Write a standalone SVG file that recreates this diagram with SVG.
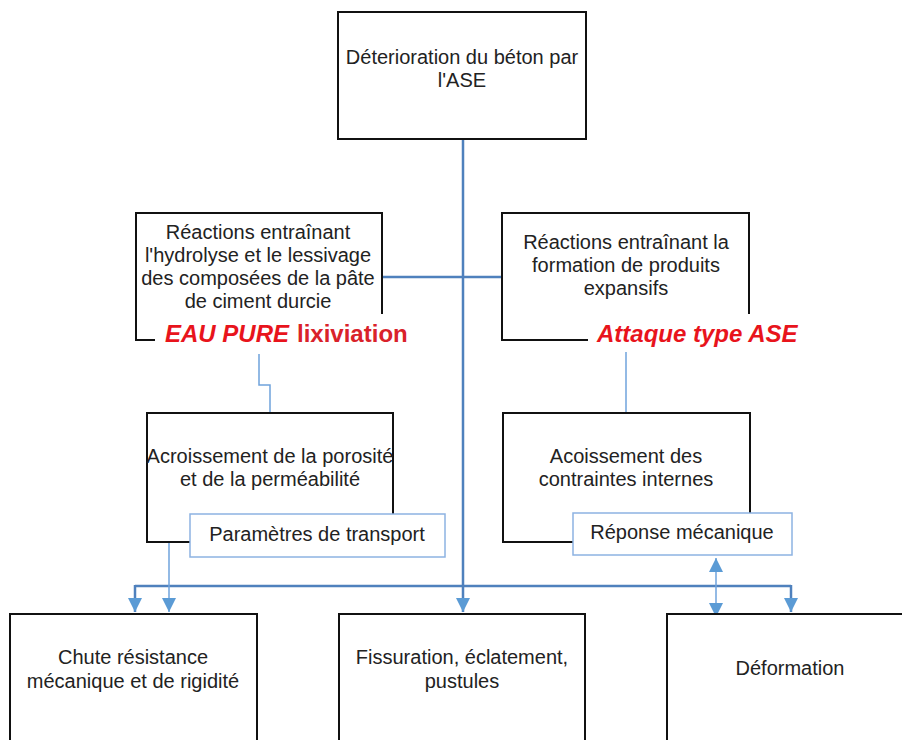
<svg xmlns="http://www.w3.org/2000/svg" width="902" height="740" viewBox="0 0 902 740">
<defs>
<style>
.box{fill:#fff;stroke:#111;stroke-width:2}
.sub{fill:#fff;stroke:#8db3e2;stroke-width:1.5}
.t{font-family:"Liberation Sans",Arial,sans-serif;font-size:20px;fill:#222;text-anchor:middle}
.red{font-family:"Liberation Sans",Arial,sans-serif;font-size:24px;font-weight:bold;fill:#e8141c}
.main{fill:none;stroke:#4f81bd;stroke-width:2.5}
.thin{fill:none;stroke:#6fa3dc;stroke-width:1.5}
</style>
<marker id="ah" markerUnits="userSpaceOnUse" markerWidth="14" markerHeight="14" viewBox="0 0 14 14" refX="14" refY="7" orient="auto-start-reverse">
<path d="M0,0 L14,7 L0,14 z" fill="#5b9bd5"/>
</marker>
</defs>
<rect width="902" height="740" fill="#fff"/>

<g id="connectors">
<path class="main" d="M463,139 V612" marker-end="url(#ah)"/>
<path class="main" d="M382,277 H503"/>
<path class="main" d="M135,586 H791"/>
<path class="main" d="M135,585 V612" marker-end="url(#ah)"/>
<path class="main" d="M791,585 V612" marker-end="url(#ah)"/>
<path class="thin" d="M259,345 V385 H270 V413"/>
<path class="thin" d="M626,352 V412"/>
<path class="thin" d="M169,543 V612" marker-end="url(#ah)"/>
<path class="thin" d="M716,558 V617" marker-start="url(#ah)" marker-end="url(#ah)"/>
</g>

<g id="n-top">
<rect class="box" x="338" y="12" width="248" height="127"/>
<text class="t" x="462" y="64">Déterioration du béton par</text>
<text class="t" x="462" y="87">l'ASE</text>
</g>

<g id="n-hydrolyse">
<rect class="box" x="136" y="213" width="246" height="127"/>
<text class="t" x="258" y="239">Réactions entraînant</text>
<text class="t" x="258" y="262">l'hydrolyse et le lessivage</text>
<text class="t" x="258" y="285">des composées de la pâte</text>
<text class="t" x="258" y="308">de ciment durcie</text>
</g>

<g id="n-eau">
<rect x="155" y="314" width="265" height="40" fill="#fff"/>
<text class="red" x="165" y="342"><tspan font-style="italic">EAU PURE</tspan><tspan x="297" fill="#d9222a">lixiviation</tspan></text>
</g>

<g id="n-expansifs">
<rect class="box" x="502" y="213" width="247" height="127"/>
<text class="t" x="626" y="249">Réactions entraînant la</text>
<text class="t" x="626" y="272">formation de produits</text>
<text class="t" x="626" y="295">expansifs</text>
</g>

<g id="n-ase">
<rect x="588" y="314" width="222" height="38" fill="#fff"/>
<text class="red" x="597" y="342" font-style="italic">Attaque type ASE</text>
</g>

<g id="n-porosite">
<rect class="box" x="147" y="413" width="246" height="129"/>
<text class="t" x="270" y="463">Acroissement de la porosité</text>
<text class="t" x="270" y="486">et de la perméabilité</text>
</g>

<g id="n-transport">
<rect class="sub" x="190" y="514" width="255" height="43"/>
<text class="t" x="317" y="541">Paramètres de transport</text>
</g>

<g id="n-contraintes">
<rect class="box" x="503" y="413" width="247" height="129"/>
<text class="t" x="626" y="463">Acoissement des</text>
<text class="t" x="626" y="486">contraintes internes</text>
</g>

<g id="n-reponse">
<rect class="sub" x="573" y="513" width="219" height="42"/>
<text class="t" x="682" y="539">Réponse mécanique</text>
</g>

<g id="n-chute">
<rect class="box" x="10" y="614" width="247" height="150"/>
<text class="t" x="133" y="664">Chute résistance</text>
<text class="t" x="133" y="688">mécanique et de rigidité</text>
</g>

<g id="n-fissuration">
<rect class="box" x="339" y="614" width="246" height="150"/>
<text class="t" x="462" y="664">Fissuration, éclatement,</text>
<text class="t" x="462" y="688">pustules</text>
</g>

<g id="n-deformation">
<rect class="box" x="667" y="614" width="260" height="150"/>
<text class="t" x="790" y="675">Déformation</text>
</g>
</svg>
